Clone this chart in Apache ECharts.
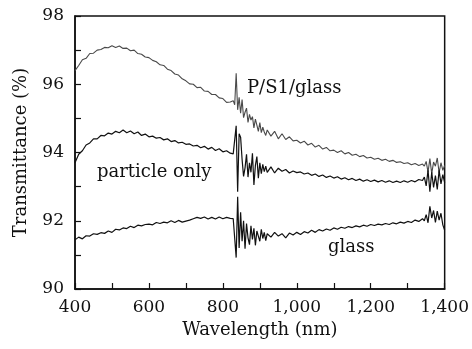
<!DOCTYPE html>
<html><head><meta charset="utf-8">
<script src="https://cdn.jsdelivr.net/npm/echarts@6/dist/echarts.min.js"></script>
<style>html,body{margin:0;padding:0;background:#fff}#c{width:472px;height:349px}</style>
</head><body><div id="c"></div>
<script>
var wavelength = [
400,410,420,430,440,450,460,470,480,490,500,510,520,530,540,550,560,570,580,590,600,610,620,630,640,650,660,670,680,690,700,710,720,730,740,750,760,770,780,790,800,810,820,
824,828,832,836,840,844,848,852,856,860,864,868,872,876,880,884,888,892,896,900,904,908,912,916,920,
930,940,950,960,970,980,990,1000,1010,1020,1030,1040,1050,1060,1070,1080,1090,1100,1110,1120,1130,1140,1150,1160,1170,1180,1190,1200,1210,1220,1230,1240,1250,1260,1270,1280,1290,1300,1310,1320,1330,1340,
1345,1350,1355,1360,1365,1370,1375,1380,1385,1390,1395,1400];

var psGlass = [
96.40,96.55,96.72,96.76,96.90,96.91,97.00,97.02,97.08,97.07,97.13,97.08,97.12,97.05,97.06,96.98,97.00,96.90,96.88,96.80,96.78,96.70,96.66,96.57,96.55,96.44,96.40,96.30,96.27,96.16,96.10,96.01,96.00,95.90,95.91,95.80,95.79,95.70,95.70,95.60,95.58,95.47,95.48,
95.44,95.52,95.40,96.32,95.25,95.62,95.15,95.55,95.02,95.18,95.30,94.88,95.12,94.95,95.05,94.72,94.98,94.80,94.62,94.88,94.58,94.74,94.60,94.50,94.66,
94.48,94.62,94.40,94.55,94.38,94.46,94.34,94.36,94.28,94.33,94.22,94.27,94.16,94.21,94.10,94.15,94.05,94.07,94.00,94.05,93.96,94.00,93.92,93.95,93.88,93.91,93.84,93.86,93.80,93.83,93.77,93.80,93.74,93.77,93.71,93.73,93.68,93.70,93.64,93.68,93.62,93.66,
93.60,93.74,93.42,93.82,93.38,93.72,93.60,93.84,93.40,93.70,93.48,93.62];

var particleOnly = [
93.70,93.95,94.05,94.22,94.28,94.40,94.40,94.50,94.49,94.57,94.54,94.62,94.58,94.66,94.58,94.63,94.55,94.60,94.50,94.54,94.46,94.48,94.42,94.44,94.37,94.40,94.32,94.35,94.28,94.30,94.24,94.25,94.19,94.21,94.14,94.18,94.10,94.15,94.06,94.11,94.02,94.05,93.98,
94.00,93.96,93.92,94.78,92.85,94.55,94.45,93.80,93.30,93.55,93.95,93.28,93.70,93.42,93.98,93.05,93.62,93.88,93.25,93.70,93.38,93.65,93.44,93.60,93.42,
93.58,93.40,93.54,93.45,93.50,93.40,93.46,93.41,93.43,93.37,93.40,93.33,93.37,93.30,93.34,93.27,93.31,93.25,93.29,93.22,93.26,93.20,93.24,93.18,93.22,93.16,93.20,93.15,93.19,93.14,93.18,93.13,93.17,93.12,93.16,93.12,93.17,93.13,93.18,93.14,93.21,93.18,
93.28,93.02,93.48,92.85,93.42,92.98,93.32,92.92,93.48,93.08,93.35,93.12];

var glass = [
91.44,91.52,91.47,91.56,91.55,91.62,91.60,91.65,91.63,91.70,91.66,91.75,91.73,91.79,91.77,91.84,91.80,91.87,91.85,91.89,91.90,91.88,91.95,91.92,91.96,91.94,92.00,91.95,92.01,91.96,91.99,92.02,92.06,92.10,92.07,92.11,92.05,92.10,92.05,92.11,92.06,92.10,92.07,
92.10,92.06,92.10,90.92,92.70,91.20,92.25,91.40,92.00,91.18,91.92,91.50,91.30,91.85,91.45,91.78,91.28,91.70,91.55,91.40,91.75,91.48,91.66,91.42,91.62,
91.52,91.66,91.55,91.62,91.50,91.64,91.58,91.66,91.60,91.68,91.64,91.72,91.66,91.74,91.70,91.76,91.72,91.79,91.75,91.81,91.78,91.83,91.80,91.85,91.82,91.87,91.84,91.89,91.86,91.90,91.88,91.92,91.89,91.94,91.91,91.96,91.93,91.98,91.95,92.02,91.98,92.06,
92.00,92.18,91.94,92.42,92.08,92.30,91.95,92.28,92.02,92.22,91.88,91.72];

var xTicks = [400, 600, 800, 1000, 1200, 1400];
var yTicks = [90, 92, 94, 96, 98];
var seriesNames = ['P/S1/glass', 'particle only', 'glass'];

function pairs(ys){ return wavelength.map(function(x,i){ return [x, ys[i]]; }); }
function fmtX(v){ return xTicks.indexOf(v) >= 0 ? v.toLocaleString('en-US') : ''; }
function fmtY(v){ return yTicks.indexOf(v) >= 0 ? String(v) : ''; }

var FONT = 'DejaVu Serif';
var chart = echarts.init(document.getElementById('c'), null, {renderer:'canvas'});
chart.setOption({
  animation: false,
  backgroundColor: '#fff',
  grid: {left: 75, right: 21, top: 16, bottom: 60, show: true, borderColor: '#111', borderWidth: 1.5, backgroundColor: 'transparent'},
  xAxis: {
    type: 'value', min: 400, max: 1400, interval: 100,
    name: 'Wavelength (nm)', nameLocation: 'middle', nameGap: 31,
    nameTextStyle: {fontFamily: FONT, fontSize: 18, color: '#111'},
    axisLine: {lineStyle: {color: '#111', width: 1.5}},
    axisTick: {inside: true, length: 6, lineStyle: {color: '#111', width: 1.2}},
    axisLabel: {formatter: fmtX, fontFamily: FONT, fontSize: 17, color: '#111', margin: 10, showMinLabel: true, showMaxLabel: true},
    splitLine: {show: false}
  },
  yAxis: {
    type: 'value', min: 90, max: 98, interval: 1,
    name: 'Transmittance (%)', nameLocation: 'middle', nameGap: 45,
    nameTextStyle: {fontFamily: FONT, fontSize: 18, color: '#111'},
    axisLine: {show: true, lineStyle: {color: '#111', width: 1.5}},
    axisTick: {show: true, inside: true, length: 6, lineStyle: {color: '#111', width: 1.2}},
    axisLabel: {formatter: fmtY, fontFamily: FONT, fontSize: 17, color: '#111', margin: 11},
    splitLine: {show: false}
  },
  series: [
    {name: seriesNames[0], type: 'line', data: pairs(psGlass), showSymbol: false, symbol: 'none',
     lineStyle: {color: '#4a4a4a', width: 1.1}},
    {name: seriesNames[1], type: 'line', data: pairs(particleOnly), showSymbol: false, symbol: 'none',
     lineStyle: {color: '#111', width: 1.2}},
    {name: seriesNames[2], type: 'line', data: pairs(glass), showSymbol: false, symbol: 'none',
     lineStyle: {color: '#111', width: 1.2}}
  ],
  graphic: [
    {type: 'text', left: 247, top: 79, style: {text: seriesNames[0], font: '18px "DejaVu Serif"', fill: '#111'}},
    {type: 'text', left: 97, top: 163, style: {text: seriesNames[1], font: '18px "DejaVu Serif"', fill: '#111'}},
    {type: 'text', left: 328, top: 238, style: {text: seriesNames[2], font: '18px "DejaVu Serif"', fill: '#111'}}
  ]
});
</script></body></html>
